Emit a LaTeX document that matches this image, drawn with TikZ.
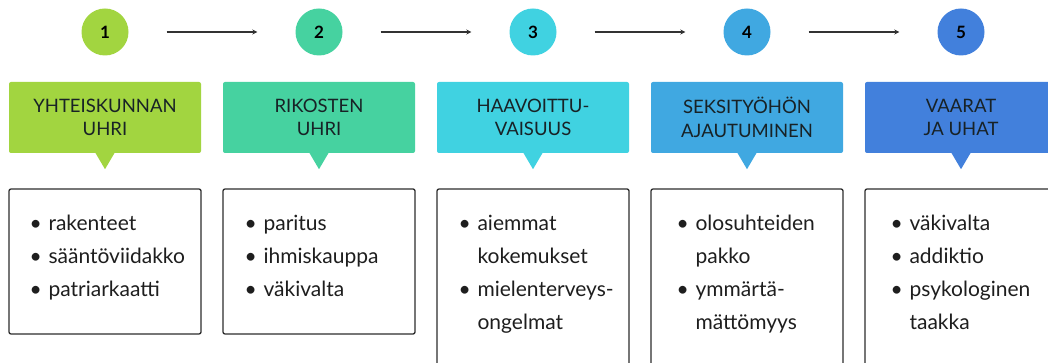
\documentclass[tikz,border=0pt]{standalone}
\usepackage{fontspec}
\setmainfont{Lato}
\usetikzlibrary{arrows.meta}
\definecolor{cA}{RGB}{162,213,64}
\definecolor{cB}{RGB}{70,210,160}
\definecolor{cC}{RGB}{64,210,225}
\definecolor{cD}{RGB}{64,168,225}
\definecolor{cE}{RGB}{66,128,220}
\definecolor{headtext}{RGB}{24,34,38}
\definecolor{boxline}{RGB}{45,45,45}
\definecolor{arrowgray}{RGB}{50,50,50}
\definecolor{bodytext}{RGB}{30,30,30}
\newcommand\mybul{\makebox[19pt][l]{\textbullet}}
\begin{document}
\begin{tikzpicture}[x=1pt,y=-1pt,
  num/.style={circle, minimum size=47pt, inner sep=0pt, font=\fontsize{17}{17}\selectfont\bfseries, text=black},
  head/.style={minimum width=192pt, minimum height=71pt, rounded corners=2pt, inner sep=0pt, align=center, font=\fontsize{18.5}{23.5}\selectfont, text=headtext},
  bodybox/.style={draw=boxline, line width=1.3pt, rounded corners=2pt, minimum width=192pt, inner sep=0pt},
  bodytxt/.style={anchor=north west, inner sep=0pt, font=\fontsize{21}{33}\selectfont, text=bodytext},
  arr/.style={draw=arrowgray, line width=1.1pt, -{Stealth[length=5pt,width=5pt]}, shorten <=38pt, shorten >=38pt}]
\useasboundingbox (0,0) rectangle (1048,363);
\clip (0,0) rectangle (1048,363);
\fill[white] (0,0) rectangle (1048,363);
\foreach \i/\col/\txt in {1/cA/{YHTEISKUNNAN\\UHRI}, 2/cB/{RIKOSTEN\\UHRI}, 3/cC/{HAAVOITTU-\\VAISUUS}, 4/cD/{SEKSITYÖHÖN\\AJAUTUMINEN}, 5/cE/{VAARAT\\JA UHAT}} {
  \pgfmathsetmacro{\cx}{105+214*(\i-1)}
  \node[num, fill=\col] (c\i) at (\cx,32) {\i};
  \node[head, fill=\col] (h\i) at (\cx,117.5) {\txt};
  \fill[\col] ([xshift=-10pt,yshift=1pt]h\i.south) -- ([xshift=10pt,yshift=1pt]h\i.south) -- ([yshift=-16pt]h\i.south) -- cycle;
}
\foreach \i [evaluate=\i as \j using int(\i+1)] in {1,...,4}
  \draw[arr] (c\i) -- (c\j);
% body boxes
\node[bodybox, minimum height=145pt] (b1) at (105,261.5) {};
\node[bodybox, minimum height=145pt] (b2) at (319,261.5) {};
\node[bodybox, minimum height=200pt] (b3) at (533,289) {};
\node[bodybox, minimum height=200pt] (b4) at (747,289) {};
\node[bodybox, minimum height=200pt] (b5) at (961,289) {};
\node[bodytxt] (t1) at ([xshift=21pt,yshift=-19pt]b1.north west) {\begin{tabular}{@{}l@{}l@{}}\mybul & rakenteet\\ \mybul & sääntöviidakko\\ \mybul & patriarkaatti\end{tabular}};
\node[bodytxt] (t2) at ([xshift=22pt,yshift=-19pt]b2.north west) {\begin{tabular}{@{}l@{}l@{}}\mybul & paritus\\ \mybul & ihmiskauppa\\ \mybul & väkivalta\end{tabular}};
\node[bodytxt] (t3) at ([xshift=22pt,yshift=-19pt]b3.north west) {\begin{tabular}{@{}l@{}l@{}}\mybul & aiemmat\\ & kokemukset\\ \mybul & mielenterveys-\\ & ongelmat\end{tabular}};
\node[bodytxt] (t4) at ([xshift=26pt,yshift=-19pt]b4.north west) {\begin{tabular}{@{}l@{}l@{}}\mybul & olosuhteiden\\ & pakko\\ \mybul & ymmärtä-\\ & mättömyys\end{tabular}};
\node[bodytxt] (t5) at ([xshift=26pt,yshift=-19pt]b5.north west) {\begin{tabular}{@{}l@{}l@{}}\mybul & väkivalta\\ \mybul & addiktio\\ \mybul & psykologinen\\ & taakka\end{tabular}};
\end{tikzpicture}
\end{document}
